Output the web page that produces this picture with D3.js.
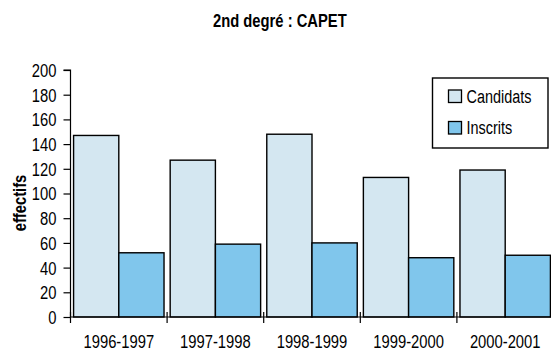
<!DOCTYPE html>
<html>
<head>
<meta charset="utf-8">
<script src="https://cdn.jsdelivr.net/npm/d3@7"></script>
<style>
  body { margin: 0; background: #fff; }
  text { font-family: "Liberation Sans", Arial, sans-serif; fill: #000; }
</style>
</head>
<body>
<svg id="chart" width="551" height="353"></svg>
<script>
// données
const years = ["1996-1997", "1997-1998", "1998-1999", "1999-2000", "2000-2001"];
const candidats = [147, 127, 148, 113, 119];
const inscrits = [52, 59, 60, 48, 50];
const series = ["Candidats", "Inscrits"];
const yTicks = [0, 20, 40, 60, 80, 100, 120, 140, 160, 180, 200];

const colorCand = "#d4e7f1";
const colorInsc = "#80c6ec";

const svg = d3.select("#chart");

const x0 = 70.5, x1 = 553.5, yTop = 70, yBottom = 317;

// police étroite : on comprime le texte à 82 %
function narrow(sel) {
    sel.each(function () {
        const w = this.getComputedTextLength();
        d3.select(this).attr("textLength", w * 0.82).attr("lengthAdjust", "spacingAndGlyphs");
    });
}

// échelles
const xScale = d3.scaleBand().domain(years).range([x0, x1]);
const xSub = d3.scaleBand().domain(series).range([0, xScale.bandwidth()]).paddingOuter(0.068);
const yScale = d3.scaleLinear().domain([0, 200]).range([yBottom, yTop]);

// titre
svg.append("text")
    .attr("x", 213).attr("y", 27)
    .style("font-size", "18px").style("font-weight", "bold")
    .text("2nd degré : CAPET")
    .call(narrow);

// barres
const data = years.map((y, i) => ({ year: y, Candidats: candidats[i], Inscrits: inscrits[i] }));
const groups = svg.append("g").selectAll("g").data(data).join("g")
    .attr("transform", d => `translate(${xScale(d.year)},0)`);
groups.selectAll("rect")
    .data(d => series.map(s => ({ key: s, value: d[s] })))
    .join("rect")
    .attr("x", d => xSub(d.key))
    .attr("y", d => yScale(d.value))
    .attr("width", xSub.bandwidth())
    .attr("height", d => yScale(0) - yScale(d.value))
    .attr("fill", d => d.key === "Candidats" ? colorCand : colorInsc)
    .attr("stroke", "#000")
    .attr("stroke-width", 1.4);

// axe Y
const yAxis = d3.axisLeft(yScale).tickValues(yTicks).tickSize(7).tickPadding(7);
const gy = svg.append("g").attr("transform", `translate(${x0},0)`).call(yAxis);
gy.select(".domain").attr("d", `M-7,${yTop}H0V${yBottom}`).attr("stroke-width", 1.2);
gy.selectAll(".tick line").attr("stroke-width", 1.2);
gy.selectAll("text")
    .style("font-family", "'Liberation Sans', Arial, sans-serif")
    .style("font-size", "18px")
    .attr("dy", "0.36em")
    .call(narrow);

// axe X
const boundaries = years.map(y => xScale(y));
const gx = svg.append("g");
gx.append("line").attr("x1", x0).attr("x2", x1).attr("y1", yBottom).attr("y2", yBottom)
    .attr("stroke", "#000").attr("stroke-width", 1.2);
gx.selectAll("line.tk").data(boundaries).join("line").attr("class", "tk")
    .attr("x1", d => d).attr("x2", d => d).attr("y1", yBottom - 5).attr("y2", yBottom + 6)
    .attr("stroke", "#000").attr("stroke-width", 1.2);
gx.selectAll("text").data(years).join("text")
    .attr("x", d => xScale(d) + xScale.bandwidth() / 2)
    .attr("y", 348)
    .attr("text-anchor", "middle")
    .style("font-size", "18px")
    .text(d => d)
    .call(narrow);

// titre axe Y
svg.append("text")
    .attr("transform", "translate(25.5,203) rotate(-90)")
    .attr("text-anchor", "middle")
    .style("font-size", "18px").style("font-weight", "bold")
    .text("effectifs")
    .call(narrow);

// légende
const leg = svg.append("g");
leg.append("rect").attr("x", 432.5).attr("y", 78).attr("width", 115.5).attr("height", 70)
    .attr("fill", "#fff").attr("stroke", "#000").attr("stroke-width", 1.4);
const legItems = leg.selectAll("g").data(series).join("g")
    .attr("transform", (d, i) => `translate(448.5,${90 + i * 31.5})`);
legItems.append("rect").attr("width", 13).attr("height", 12.5)
    .attr("fill", d => d === "Candidats" ? colorCand : colorInsc)
    .attr("stroke", "#000").attr("stroke-width", 1.3);
legItems.append("text").attr("x", 18).attr("y", 12.5)
    .style("font-size", "17.6px")
    .text(d => d)
    .call(narrow);
</script>
</body>
</html>
